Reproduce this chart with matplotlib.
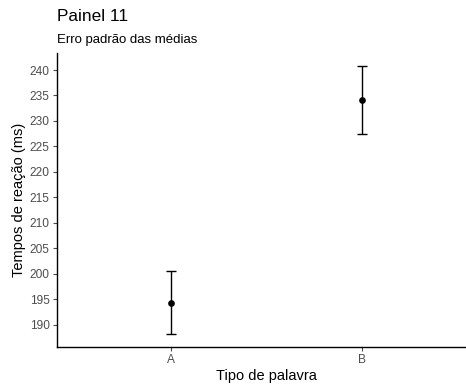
import matplotlib
matplotlib.use("Agg")
import matplotlib.pyplot as plt

plt.rcParams['font.family'] = ['Liberation Sans', 'DejaVu Sans']

categorias = ["A", "B"]
medias = [194.3, 234.1]
inferior = [188.2, 227.4]
superior = [200.5, 240.8]

fig = plt.figure(figsize=(4.66, 3.87), dpi=100)
ax = fig.add_axes([0.1217, 0.1034, 1.0227 - 0.1217, 0.8638 - 0.1034])

x = list(range(1, len(categorias) + 1))
yerr = [[m - lo for m, lo in zip(medias, inferior)],
        [hi - m for m, hi in zip(medias, superior)]]
ax.errorbar(x, medias, yerr=yerr, fmt='o', color='black', ms=3.8,
            elinewidth=1.0, capsize=3.8, capthick=1.0)

ax.set_xlim(0.4, 2.6)
ax.set_ylim(185.6, 243.4)
ax.set_xticks(x)
ax.set_xticklabels(categorias)
ax.set_yticks(range(190, 241, 5))

for s in ['top', 'right']:
    ax.spines[s].set_visible(False)
for s in ['left', 'bottom']:
    ax.spines[s].set_linewidth(1.0)
ax.tick_params(axis='both', colors='#4D4D4D', labelsize=8.6, length=3, width=0.8, pad=2)

ax.set_xlabel("Tipo de palavra", fontsize=10.5)
ax.set_ylabel("Tempos de reação (ms)", fontsize=10.5)
ax.xaxis.labelpad = 2
ax.yaxis.labelpad = 3

fig.text(57 / 466, 1 - 21 / 387, "Painel 11", fontsize=12.4, ha='left', va='baseline')
fig.text(57 / 466, 1 - 43 / 387, "Erro padrão das médias", fontsize=9.5, ha='left', va='baseline')

fig.savefig("out.png", dpi=100)
